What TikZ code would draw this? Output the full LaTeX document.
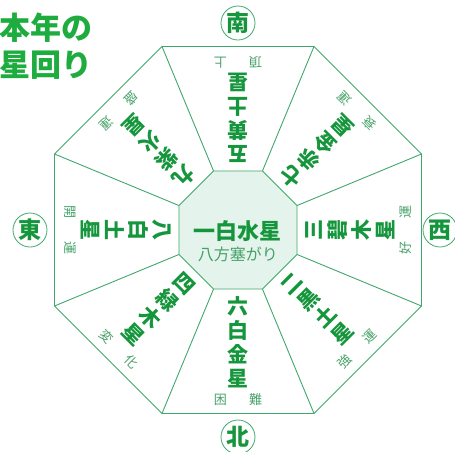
\documentclass[tikz,border=0pt]{standalone}
\usepackage{fontspec}
\newfontfamily\jp{Noto Sans CJK JP}
\definecolor{vert}{RGB}{64,168,108}
\definecolor{vertfonce}{RGB}{22,150,60}
\definecolor{vertclair}{RGB}{70,160,105}
\definecolor{vertitre}{RGB}{30,172,62}
\definecolor{fond}{RGB}{228,244,236}

\begin{document}
\begin{tikzpicture}[x=1pt,y=1pt]
 % style des noeuds
  \tikzstyle{etoile}=[text=vertfonce,font=\jp\bfseries\fontsize{21}{24}\selectfont,align=center,inner sep=0pt]
  \tikzstyle{sort}=[text=vertclair,font=\jp\fontsize{13}{13}\selectfont,inner sep=0pt]
  \tikzstyle{centre}=[text=vertfonce,font=\jp\bfseries\fontsize{22}{22}\selectfont,inner sep=0pt]
  \tikzstyle{centresous}=[text=vertclair,font=\jp\fontsize{16}{16}\selectfont,inner sep=0pt]
  \tikzstyle{direction}=[circle,draw=vert,line width=0.8pt,minimum size=34pt,inner sep=0pt,text=vertfonce,font=\jp\bfseries\fontsize{23}{23}\selectfont]
  \tikzstyle{titre}=[text=vertitre,font=\jp\bfseries\fontsize{31}{37}\selectfont,align=left,inner sep=0pt,anchor=west]
 % style des traits
  \tikzstyle{trait}=[draw=vert,line width=0.9pt,line join=round]
  \useasboundingbox (-238,-221) rectangle (217,230);
 % sommets des octogones
  \foreach \i in {1,...,8} {
    \coordinate (o\i) at ({45*\i-22.5}:198.6);
    \coordinate (i\i) at ({45*\i-22.5}:63.9);
  }
 % octogones et rayons
  \draw[trait] (o1) -- (o2) -- (o3) -- (o4) -- (o5) -- (o6) -- (o7) -- (o8) -- cycle;
  \foreach \i in {1,...,8} \draw[trait] (i\i) -- (o\i);
  \draw[trait,fill=fond] (i1) -- (i2) -- (i3) -- (i4) -- (i5) -- (i6) -- (i7) -- (i8) -- cycle;
 % placement des noeuds
  \node[titre] (titre) at (-239,184) {本年の\\星回り};
  \node[centre] (ippaku) at (0,-1) {一白水星};
  \node[centresous] (hakkou) at (0,-24) {八方塞がり};
  \node[etoile,rotate=90] (sanpeki) at (0:112) {三\\碧\\木\\星};
  \node[etoile,rotate=135] (shichiseki) at (45:112) {七\\赤\\金\\星};
  \node[etoile,rotate=180] (goou) at (90:112) {五\\黄\\土\\星};
  \node[etoile,rotate=225] (kyuushi) at (135:112) {九\\紫\\火\\星};
  \node[etoile,rotate=270] (happaku) at (180:112) {八\\白\\土\\星};
  \node[etoile,rotate=315] (shiroku) at (225:112) {四\\緑\\木\\星};
  \node[etoile] (roppaku) at (270:112) {六\\白\\金\\星};
  \node[etoile,rotate=45] (jikoku) at (315:112) {二\\黒\\土\\星};
  \node[sort,rotate=90] (kouun) at (0:168) {好\hspace{1.7em}運};
  \node[sort,rotate=135] (suiun) at (45:168) {衰\hspace{1.7em}運};
  \node[sort,rotate=180] (choujou) at (90:168) {頂\hspace{1.7em}上};
  \node[sort,rotate=225] (seiun) at (135:168) {盛\hspace{1.7em}運};
  \node[sort,rotate=270] (kaiun) at (180:168) {開\hspace{1.7em}運};
  \node[sort,rotate=315] (henka) at (225:168) {変\hspace{1.7em}化};
  \node[sort] (konnan) at (270:170) {困\hspace{1.7em}難};
  \node[sort,rotate=45] (kyouun) at (315:168) {強\hspace{1.7em}運};
  \node[direction] (minami) at (90:207) {南};
  \node[direction] (kita) at (270:207) {北};
  \node[direction] (higashi) at (180:208) {東};
  \node[direction] (nishi) at (0:202) {西};
\end{tikzpicture}
\end{document}
